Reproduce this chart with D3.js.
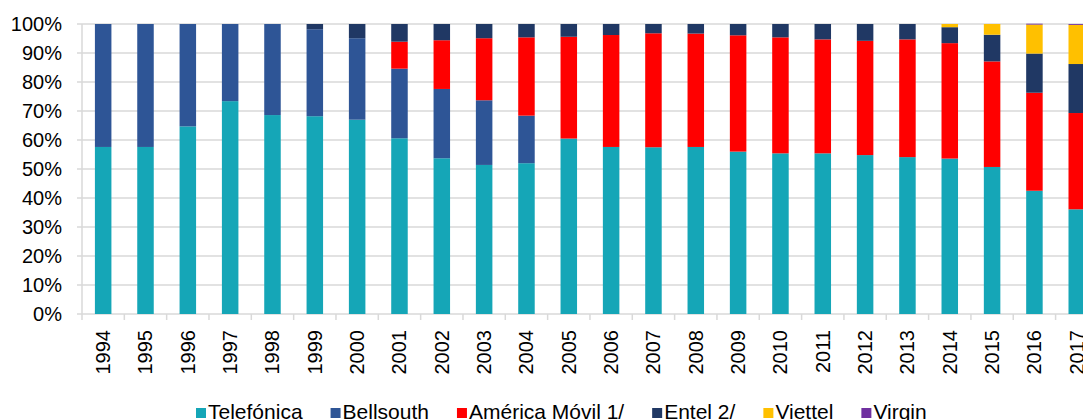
<!DOCTYPE html>
<html>
  <head>
    <meta charset="utf-8">
    <script src="https://d3js.org/d3.v7.min.js"></script>
    <style>
      body { margin: 0; background-color: white; }
      text { font-family: 'Liberation Sans', Arial, sans-serif; fill: #000; }
    </style>
  </head>
  <body>
    <svg id="canvas" width="1083" height="420"></svg>
    <script>
      const years = ['1994', '1995', '1996', '1997', '1998', '1999', '2000', '2001', '2002', '2003', '2004', '2005',
        '2006', '2007', '2008', '2009', '2010', '2011', '2012', '2013', '2014', '2015', '2016', '2017']
      const seriesNames = ['Telefónica', 'Bellsouth', 'América Móvil 1/', 'Entel 2/', 'Viettel', 'Virgin']
      const colors = ['#15a6b7', '#2e5596', '#ff0000', '#203864', '#ffc000', '#7030a0']

      // shares in %
      const telefonica = [57.6, 57.6, 64.7, 73.4, 68.6, 68.2, 67.0, 60.6, 53.7, 51.4, 52.0, 60.5,
        57.6, 57.5, 57.6, 56.0, 55.4, 55.4, 54.8, 54.1, 53.6, 50.7, 42.5, 36.1]
      const bellsouth = [42.4, 42.4, 35.3, 26.6, 31.4, 30.0, 28.1, 24.0, 23.9, 22.3, 16.4, 0,
        0, 0, 0, 0, 0, 0, 0, 0, 0, 0, 0, 0]
      const americaMovil = [0, 0, 0, 0, 0, 0, 0, 9.3, 16.8, 21.4, 27.0, 35.1,
        38.6, 39.3, 39.1, 40.1, 40.0, 39.3, 39.4, 40.6, 39.8, 36.4, 33.8, 33.2]
      const entel = [0, 0, 0, 0, 0, 1.8, 4.9, 6.1, 5.6, 4.9, 4.6, 4.4,
        3.8, 3.2, 3.3, 3.9, 4.6, 5.3, 5.8, 5.3, 5.5, 9.2, 13.5, 16.9]
      const viettel = [0, 0, 0, 0, 0, 0, 0, 0, 0, 0, 0, 0,
        0, 0, 0, 0, 0, 0, 0, 0, 1.1, 3.7, 10.0, 13.5]
      const virgin = [0, 0, 0, 0, 0, 0, 0, 0, 0, 0, 0, 0,
        0, 0, 0, 0, 0, 0, 0, 0, 0, 0, 0.3, 0.3]
      const yTicks = [0, 10, 20, 30, 40, 50, 60, 70, 80, 90, 100]

      const seriesValues = [telefonica, bellsouth, americaMovil, entel, viettel, virgin]
      const rows = years.map((yr, i) => {
        const r = { year: yr }
        seriesNames.forEach((s, j) => { r[s] = seriesValues[j][i] })
        return r
      })
      const stacked = d3.stack().keys(seriesNames)(rows)

      const plotLeft = 82
      const step = 42.33
      const plotTop = 24
      const plotBottom = 314

      const svg = d3.select('#canvas')
      const x = d3.scaleBand().domain(years)
        .range([plotLeft, plotLeft + step * years.length])
        .paddingInner(0.61).paddingOuter(0.305)
      const y = d3.scaleLinear().domain([0, 100]).range([plotBottom, plotTop])

      // gridlines
      svg.append('g').selectAll('line').data(yTicks).join('line')
        .attr('x1', plotLeft - 5).attr('x2', 1083)
        .attr('y1', d => y(d)).attr('y2', d => y(d))
        .attr('stroke', '#d9d9d9').attr('stroke-width', 1.5)

      // y axis line
      svg.append('line')
        .attr('x1', plotLeft).attr('x2', plotLeft).attr('y1', plotTop).attr('y2', plotBottom)
        .attr('stroke', '#d9d9d9').attr('stroke-width', 1.5)

      // x ticks at band edges
      svg.append('g').selectAll('line').data(d3.range(years.length + 1)).join('line')
        .attr('x1', d => plotLeft + d * step).attr('x2', d => plotLeft + d * step)
        .attr('y1', plotBottom).attr('y2', plotBottom + 6)
        .attr('stroke', '#d9d9d9').attr('stroke-width', 1.5)

      // y labels
      svg.append('g').selectAll('text').data(yTicks).join('text')
        .attr('x', 62).attr('y', d => y(d))
        .attr('text-anchor', 'end').attr('dominant-baseline', 'central')
        .style('font-size', '20px')
        .text(d => d + '%')

      // bars
      svg.append('g').selectAll('g').data(stacked).join('g')
        .attr('fill', (d, i) => colors[i])
        .selectAll('rect').data(d => d).join('rect')
          .attr('x', d => x(d.data.year))
          .attr('width', x.bandwidth())
          .attr('y', d => y(d[1]))
          .attr('height', d => y(d[0]) - y(d[1]))

      // year labels
      svg.append('g').selectAll('text').data(years).join('text')
        .attr('transform', d => `translate(${x(d) + x.bandwidth() / 2}, 330) rotate(-90)`)
        .attr('text-anchor', 'end').attr('dominant-baseline', 'central')
        .style('font-size', '20px')
        .text(d => d)

      // legend
      const legend = svg.append('g')
      let lx = 196
      seriesNames.forEach((s, i) => {
        legend.append('rect')
          .attr('x', lx).attr('y', 408).attr('width', 10).attr('height', 10)
          .attr('fill', colors[i])
        const t = legend.append('text')
          .attr('x', lx + 12).attr('y', 419)
          .style('font-size', '21px')
          .text(s)
        lx += 12 + t.node().getComputedTextLength() + 28
      })
    </script>
  </body>
</html>
